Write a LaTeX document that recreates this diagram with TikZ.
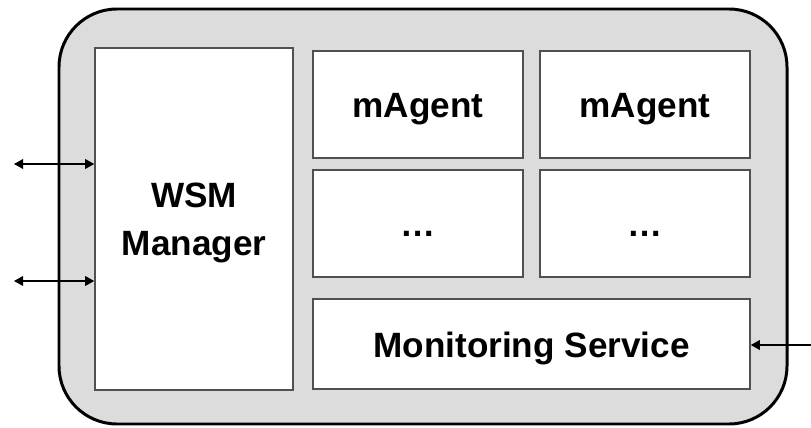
\documentclass[tikz,border=0pt]{standalone}
\usepackage{fontspec}
\setmainfont{Liberation Sans}
\usetikzlibrary{arrows.meta}
\definecolor{wsmgray}{HTML}{DCDCDC}
\definecolor{wsmedge}{HTML}{505050}
\tikzset{
  part/.style={draw=wsmedge,line width=0.45pt,fill=white,inner sep=0pt,align=center,
    text height=7.4pt,text depth=0pt,font=\bfseries\fontsize{10}{13.7}\selectfont},
  link/.style={line width=0.35pt,{Triangle[length=2.6pt,width=2.8pt]}-{Triangle[length=2.6pt,width=2.8pt]}},
  feed/.style={line width=0.35pt,-{Triangle[length=2.6pt,width=2.8pt]}}
}

\begin{document}
\begin{tikzpicture}[x=1cm,y=1cm]
  \useasboundingbox (0,0) rectangle (8.11,4.27);
  \draw[fill=wsmgray,line width=0.85pt,rounded corners=0.58cm] (0.59,0.03) rectangle (7.87,4.18);
  \node[part,text height=,minimum width=1.98cm,minimum height=3.42cm] (manager) at (1.94,2.08) {WSM\\Manager};
  \node[part,minimum width=2.10cm,minimum height=1.07cm] (agenta) at (4.18,3.225) {mAgent};
  \node[part,minimum width=2.10cm,minimum height=1.07cm] (agentb) at (6.45,3.225) {mAgent};
  \node[part,minimum width=2.10cm,minimum height=1.07cm] (morea) at (4.18,2.035) {…};
  \node[part,minimum width=2.10cm,minimum height=1.07cm] (moreb) at (6.45,2.035) {…};
  \node[part,minimum width=4.37cm,minimum height=0.90cm] (monitor) at (5.315,0.83) {Monitoring Service};
  \coordinate (upper) at (0.14,2.63);
  \coordinate (lower) at (0.14,1.46);
  \coordinate (source) at (8.11,0.82);
  \draw[link] (upper) -- (manager.west |- upper);
  \draw[link] (lower) -- (manager.west |- lower);
  \draw[feed] (source) -- (monitor.east |- source);
\end{tikzpicture}
\end{document}
